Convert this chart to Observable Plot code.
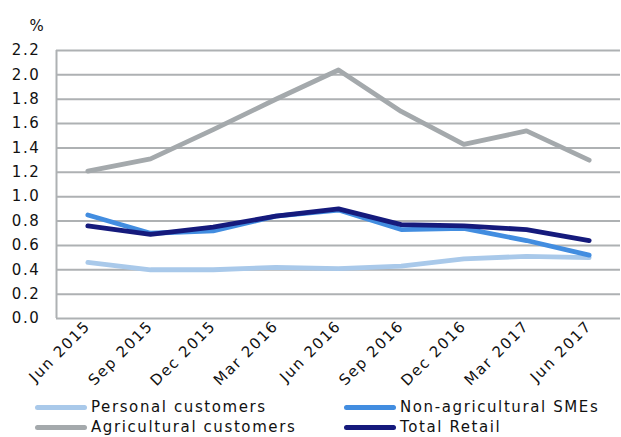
<!DOCTYPE html>
<html><head><meta charset="utf-8">
<script src="https://cdn.jsdelivr.net/npm/d3@7"></script>
<script src="https://cdn.jsdelivr.net/npm/@observablehq/plot@0.6"></script>
<style>
body{margin:0;background:#fff;font-family:"DejaVu Sans",Verdana,sans-serif;}
#legend{position:relative;height:47px;font-size:15px;letter-spacing:1.6px;color:#111;line-height:17px;}
.item{position:absolute;display:flex;align-items:center;white-space:nowrap;}
.sw{width:52px;height:5px;border-radius:3px;margin-right:4px;}
</style></head><body>
<div id="chart"></div>
<div id="legend"></div>
<script>
const categories = ["Jun 2015","Sep 2015","Dec 2015","Mar 2016","Jun 2016","Sep 2016","Dec 2016","Mar 2017","Jun 2017"];
const personal = [0.46,0.40,0.40,0.42,0.41,0.43,0.49,0.51,0.50];
const nonAgSMEs = [0.85,0.70,0.72,0.84,0.89,0.73,0.74,0.64,0.52];
const agricultural = [1.21,1.31,1.55,1.80,2.04,1.70,1.43,1.54,1.30];
const totalRetail = [0.76,0.69,0.75,0.84,0.90,0.77,0.76,0.73,0.64];
const yTicks = [0,0.2,0.4,0.6,0.8,1.0,1.2,1.4,1.6,1.8,2.0,2.2];
const seriesNames = ["Personal customers","Non-agricultural SMEs","Agricultural customers","Total Retail"];
const seriesColors = ["#a9c9ea","#428de0","#a4a9ac","#151a7c"];
const seriesValues = [personal,nonAgSMEs,agricultural,totalRetail];

const data = [];
seriesValues.forEach((vals,s)=>vals.forEach((v,i)=>data.push({i, v, s: seriesNames[s]})));
const drawOrder = [2,0,1,3];

const chart = Plot.plot({
  width: 621, height: 390,
  marginLeft: 56, marginRight: 1, marginTop: 50, marginBottom: 72,
  style: {fontFamily: '"DejaVu Sans", Verdana, sans-serif', fontSize: "15px", color: "#111", letterSpacing: "1.6px"},
  x: {type: "linear", domain: [-0.5, 8.5]},
  y: {domain: [0, 2.2]},
  color: {domain: seriesNames, range: seriesColors},
  marks: [
    Plot.ruleY(yTicks, {stroke: "#aeb1b3", strokeWidth: 2}),
    Plot.ruleX([-0.5], {stroke: "#aeb1b3", strokeWidth: 2}),
    Plot.axisY(yTicks, {tickSize: 0, tickPadding: 16, tickFormat: d => d.toFixed(1), label: null, fontSize: 15}),
    Plot.axisX(d3.range(categories.length), {tickSize: 0, tickPadding: 5, tickRotate: -45, tickFormat: i => categories[i], label: null, fontSize: 15}),
    ...drawOrder.map(s => Plot.line(data.filter(d => d.s === seriesNames[s]), {x: "i", y: "v", stroke: seriesColors[s], strokeWidth: 4.8, strokeLinejoin: "round"})),
    Plot.text(["%"], {frameAnchor: "top-left", dx: -27, dy: -30, fontSize: 15})
  ]
});
document.getElementById("chart").appendChild(chart);

const legend = document.getElementById("legend");
const pos = [[35,10],[344,10],[35,30],[344,30]];
seriesNames.forEach((n,k)=>{
  const d = document.createElement("div");
  d.className = "item";
  d.style.left = pos[k][0]+"px"; d.style.top = (pos[k][1]-1)+"px";
  d.innerHTML = `<span class="sw" style="background:${seriesColors[k]}"></span><span>${n}</span>`;
  legend.appendChild(d);
});
</script></body></html>
